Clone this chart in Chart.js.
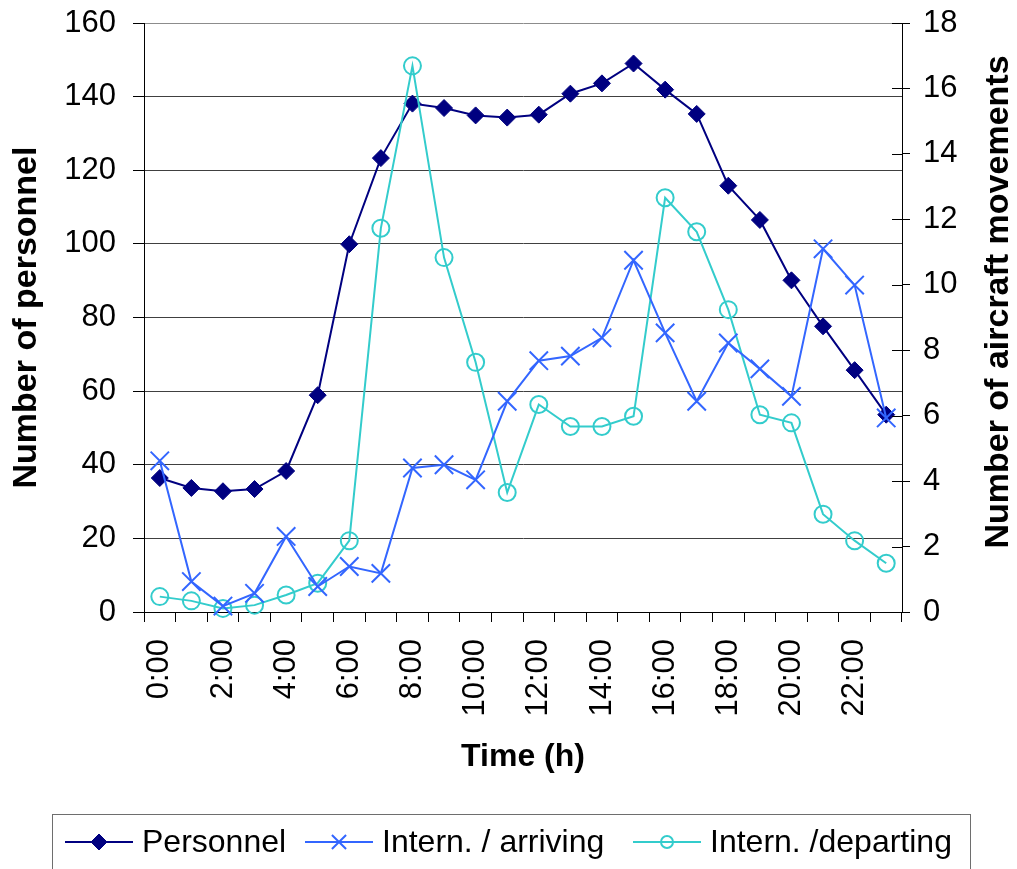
<!DOCTYPE html>
<html>
<head>
<meta charset="utf-8">
<title>Personnel and aircraft movements by hour</title>
<script src="https://cdn.jsdelivr.net/npm/chart.js@4/dist/chart.umd.min.js"></script>
<style>
  html, body { margin: 0; padding: 0; background: #ffffff; }
  canvas { display: block; }
</style>
</head>
<body>
<canvas id="chart" width="1017" height="869"></canvas>
<script>
// Hour of day (category axis)
const hours = ['0:00','1:00','2:00','3:00','4:00','5:00','6:00','7:00','8:00','9:00','10:00','11:00',
               '12:00','13:00','14:00','15:00','16:00','17:00','18:00','19:00','20:00','21:00','22:00','23:00'];

// Number of personnel on duty (left axis)
const personnel = [36.4, 33.7, 32.8, 33.4, 38.3, 58.9, 99.9, 123.3, 138.1, 136.9, 134.9, 134.3,
                   135.1, 140.8, 143.6, 149.0, 141.9, 135.3, 115.8, 106.5, 90.1, 77.6, 65.7, 53.6];

// International aircraft movements (right axis)
const arriving = [4.62, 0.93, 0.18, 0.57, 2.31, 0.78, 1.39, 1.18, 4.40, 4.50, 4.04, 6.44,
                  7.68, 7.82, 8.38, 10.75, 8.53, 6.44, 8.22, 7.43, 6.59, 11.10, 9.99, 5.93];
const departing = [0.47, 0.34, 0.11, 0.21, 0.52, 0.88, 2.18, 11.73, 16.69, 10.83, 7.63, 3.65,
                   6.34, 5.67, 5.67, 5.98, 12.66, 11.62, 9.24, 6.03, 5.78, 2.99, 2.18, 1.49];

// Axis ranges
const personnelAxis = { min: 0, max: 160, step: 20 };
const movementsAxis = { min: 0, max: 18, step: 2 };

const FONT = '"Liberation Sans", Arial, Helvetica, sans-serif';

// Fix an axis box size and drop the extra room Chart.js reserves for end labels
function fixedSize(width, height) {
  return function (scale) {
    if (width !== null) scale.width = width;
    if (height !== null) scale.height = height;
    scale.paddingTop = 0;
    scale.paddingBottom = 0;
    scale.paddingLeft = 0;
    scale.paddingRight = 0;
  };
}

// Short inward tick marks on the secondary axis
const innerTicks = {
  id: 'innerTicks',
  afterDatasetsDraw(chart) {
    const s = chart.scales.y1;
    const ctx = chart.ctx;
    ctx.save();
    ctx.strokeStyle = '#000000';
    ctx.lineWidth = 1;
    ctx.beginPath();
    s.ticks.forEach(t => {
      const y = Math.round(s.getPixelForValue(t.value)) + 0.5;
      ctx.moveTo(s.left - 10, y);
      ctx.lineTo(s.left, y);
    });
    ctx.stroke();
    ctx.restore();
  }
};

// Secondary axis title, reading bottom to top
const rightTitle = {
  id: 'rightTitle',
  afterDraw(chart) {
    const ctx = chart.ctx;
    ctx.save();
    ctx.translate(999, 302);
    ctx.rotate(-Math.PI / 2);
    ctx.font = 'bold 34px ' + FONT;
    ctx.fillStyle = '#000000';
    ctx.textAlign = 'center';
    ctx.textBaseline = 'middle';
    ctx.fillText('Number of aircraft movements', 0, 0);
    ctx.restore();
  }
};

// Boxed legend with line-and-marker samples
const boxLegend = {
  id: 'boxLegend',
  afterDraw(chart) {
    const ctx = chart.ctx;
    const y = 842;
    const entries = [
      { index: 0, x: 65, markerRadius: 8 },
      { index: 1, x: 305, markerRadius: 10 },
      { index: 2, x: 633, markerRadius: 6 }
    ];
    ctx.save();
    ctx.strokeStyle = '#6e6e6e';
    ctx.lineWidth = 1;
    ctx.strokeRect(52.5, 814.5, 918, 80);
    entries.forEach(e => {
      const ds = chart.data.datasets[e.index];
      ctx.strokeStyle = ds.borderColor;
      ctx.lineWidth = 2;
      ctx.beginPath();
      ctx.moveTo(e.x, y);
      ctx.lineTo(e.x + 68, y);
      ctx.stroke();
      ctx.fillStyle = ds.pointBackgroundColor;
      ctx.strokeStyle = ds.pointBorderColor;
      ctx.lineWidth = ds.pointBorderWidth;
      Chart.helpers.drawPoint(ctx, {
        pointStyle: ds.pointStyle,
        rotation: 0,
        radius: e.markerRadius,
        borderWidth: ds.pointBorderWidth
      }, e.x + 34, y);
      ctx.fillStyle = '#000000';
      ctx.font = '32px ' + FONT;
      ctx.textAlign = 'left';
      ctx.textBaseline = 'middle';
      ctx.fillText(ds.label, e.x + 77, y + 1);
    });
    ctx.restore();
  }
};

new Chart(document.getElementById('chart'), {
  type: 'line',
  data: {
    labels: hours,
    datasets: [
      {
        label: 'Personnel',
        data: personnel,
        yAxisID: 'y',
        borderColor: '#000080',
        backgroundColor: '#000080',
        borderWidth: 2,
        pointStyle: 'rectRot',
        pointRadius: 8.5,
        pointBackgroundColor: '#000080',
        pointBorderColor: '#000080',
        pointBorderWidth: 1,
        tension: 0,
        clip: false,
        order: 3
      },
      {
        label: 'Intern. / arriving',
        data: arriving,
        yAxisID: 'y1',
        borderColor: '#3366ff',
        backgroundColor: '#3366ff',
        borderWidth: 2,
        pointStyle: 'crossRot',
        pointRadius: 13,
        pointBackgroundColor: '#3366ff',
        pointBorderColor: '#3366ff',
        pointBorderWidth: 2,
        tension: 0,
        clip: false,
        order: 1
      },
      {
        label: 'Intern. /departing',
        data: departing,
        yAxisID: 'y1',
        borderColor: '#33cccc',
        backgroundColor: 'rgba(0,0,0,0)',
        borderWidth: 2,
        pointStyle: 'circle',
        pointRadius: 8.5,
        pointBackgroundColor: 'rgba(0,0,0,0)',
        pointBorderColor: '#33cccc',
        pointBorderWidth: 2,
        tension: 0,
        clip: false,
        order: 2
      }
    ]
  },
  options: {
    responsive: false,
    animation: false,
    devicePixelRatio: 1,
    events: [],
    layout: { padding: { top: 23, left: 0, right: 0, bottom: 84 } },
    plugins: {
      legend: { display: false },
      tooltip: { enabled: false }
    },
    scales: {
      x: {
        type: 'category',
        offset: true,
        afterFit: fixedSize(null, 173),
        grid: {
          offset: true,
          drawOnChartArea: false,
          drawTicks: true,
          tickLength: 10,
          tickColor: '#000000'
        },
        border: { display: true, color: '#000000', width: 1 },
        ticks: {
          autoSkip: false,
          minRotation: 90,
          maxRotation: 90,
          padding: 17,
          color: '#000000',
          font: { family: FONT, size: 31 },
          callback(value, index) { return index % 2 === 0 ? hours[index] : ''; }
        },
        title: {
          display: true,
          text: 'Time (h)',
          color: '#000000',
          font: { family: FONT, size: 32, weight: 'bold' },
          padding: { top: 0, bottom: 9 }
        }
      },
      y: {
        position: 'left',
        min: personnelAxis.min,
        max: personnelAxis.max,
        afterFit: fixedSize(144, null),
        grid: {
          drawOnChartArea: true,
          color(ctx) { return ctx.tick && ctx.tick.value === personnelAxis.max ? '#8c8c8c' : '#404040'; },
          lineWidth: 1,
          tickLength: 11,
          tickColor: '#000000'
        },
        border: { display: true, color: '#000000', width: 1 },
        ticks: {
          stepSize: personnelAxis.step,
          padding: 17,
          color: '#000000',
          font: { family: FONT, size: 31 }
        },
        title: {
          display: true,
          text: 'Number of personnel',
          color: '#000000',
          font: { family: FONT, size: 34, weight: 'bold' },
          padding: { top: 6, bottom: 0 }
        }
      },
      y1: {
        position: 'right',
        min: movementsAxis.min,
        max: movementsAxis.max,
        afterFit: fixedSize(115, null),
        grid: {
          drawOnChartArea: false,
          tickLength: 8,
          tickColor: '#000000'
        },
        border: { display: true, color: '#000000', width: 1 },
        ticks: {
          stepSize: movementsAxis.step,
          padding: 13,
          color: '#000000',
          font: { family: FONT, size: 31 }
        }
      }
    }
  },
  plugins: [innerTicks, rightTitle, boxLegend]
});
</script>
</body>
</html>
